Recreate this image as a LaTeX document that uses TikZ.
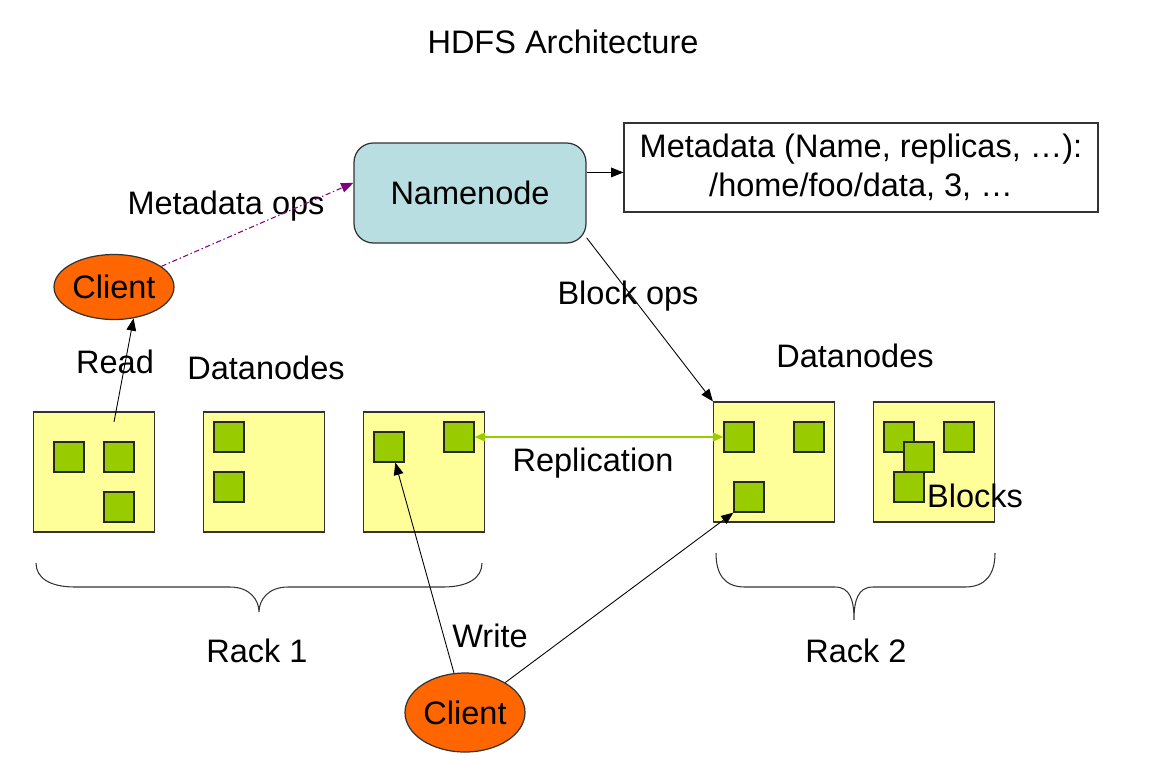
\documentclass[tikz,border=0pt]{standalone}
\usepackage{fontspec}
\setmainfont{Liberation Sans}
\usetikzlibrary{shapes.geometric, arrows.meta}
\definecolor{namecolor}{RGB}{185, 222, 226}
\definecolor{clientcolor}{RGB}{255, 102, 0}
\definecolor{nodecolor}{RGB}{255, 255, 153}
\definecolor{blockcolor}{RGB}{153, 204, 0}
\definecolor{opscolor}{RGB}{128, 0, 128}
\definecolor{edgegray}{RGB}{51, 51, 51}

\begin{document}
\begin{tikzpicture}[
    x=0.02cm, y=-0.02cm,
    every node/.style={font=\fontsize{18.5}{22.5}\selectfont},
    namebox/.style={draw=edgegray, fill=namecolor, rounded corners=11pt, line width=0.7pt, minimum width=4.64cm, minimum height=2cm},
    metabox/.style={draw=edgegray, fill=white, line width=0.7pt, minimum width=9.48cm, minimum height=1.78cm, align=center, inner sep=0pt},
    client/.style={ellipse, draw=edgegray, fill=clientcolor, line width=0.7pt, inner sep=0pt, minimum width=2.4cm},
    datanode/.style={draw=edgegray, fill=nodecolor, line width=0.7pt, minimum width=2.42cm, minimum height=2.4cm, inner sep=0pt},
    block/.style={draw=black!85, fill=blockcolor, line width=0.7pt, minimum size=0.6cm, inner sep=0pt},
    tag/.style={inner sep=0pt},
    arrow/.style={-{Triangle[length=7pt, width=5.5pt]}, line width=0.5pt, black},
    opsarrow/.style={-{Triangle[length=7pt, width=5.5pt]}, line width=0.6pt, opscolor, dash pattern=on 3pt off 1.5pt on 0.8pt off 1.5pt},
    reparrow/.style={{Triangle[length=6pt, width=5pt]}-{Triangle[length=6pt, width=5pt]}, line width=0.8pt, blockcolor},
    rack/.style={line width=0.6pt, edgegray}
]
    \useasboundingbox (0,0) rectangle (1158,775);

    % Title
    \node[tag] (title) at (563,42) {HDFS Architecture};

    % Namenode and metadata
    \node[namebox] (namenode) at (470,193) {Namenode};
    \node[metabox] (meta) at (861,167.5) {Metadata (Name, replicas, …):\\/home/foo/data, 3, …};

    % Clients
    \node[client, minimum height=1.3cm] (client1) at (114,287) {Client};
    \node[client, minimum height=1.58cm] (client2) at (465,712.5) {Client};

    % Datanodes, rack 1
    \node[datanode] (dn1) at (94,472) {};
    \node[datanode] (dn2) at (264,472) {};
    \node[datanode] (dn3) at (424,472) {};
    % Datanodes, rack 2
    \node[datanode] (dn4) at (774,462) {};
    \node[datanode] (dn5) at (934,462) {};

    % Blocks
    \node[block] (dn1a) at (69,457) {};
    \node[block] (dn1b) at (119,457) {};
    \node[block] (dn1c) at (119,507) {};
    \node[block] (dn2a) at (229,437) {};
    \node[block] (dn2b) at (229,487) {};
    \node[block] (dn3a) at (389,447) {};
    \node[block] (dn3b) at (459,437) {};
    \node[block] (dn4a) at (739,437) {};
    \node[block] (dn4b) at (809,437) {};
    \node[block] (dn4c) at (749,497) {};
    \node[block] (dn5a) at (899,437) {};
    \node[block] (dn5b) at (919,457) {};
    \node[block] (dn5c) at (909,487) {};
    \node[block] (dn5d) at (959,437) {};

    % Labels
    \node[tag] (opslabel) at (226,206) {Metadata ops};
    \node[tag] (readlabel) at (115,362) {Read};
    \node[tag] (dnlabel1) at (266,368) {Datanodes};
    \node[tag] (dnlabel2) at (855,356) {Datanodes};
    \node[tag] (blocklabel) at (628,296) {Block ops};
    \node[tag] (replabel) at (593,463) {Replication};
    \node[tag] (writelabel) at (490,636) {Write};
    \node[tag] (blockslabel) at (975,496) {Blocks};
    \node[tag] (rack1label) at (257,651) {Rack 1};
    \node[tag] (rack2label) at (856,651) {Rack 2};

    % Racks
    \draw[rack] (36,563) .. controls (36,578) and (50,587) .. (75,587) -- (230,587)
        .. controls (250,587) and (259,600) .. (259,612)
        .. controls (259,600) and (268,587) .. (288,587) -- (443,587)
        .. controls (468,587) and (482,578) .. (482,563);
    \draw[rack] (716,553) .. controls (716,575) and (725,587) .. (745,587) -- (835,587)
        .. controls (850,587) and (854,600) .. (854,620)
        .. controls (854,600) and (858,587) .. (873,587) -- (965,587)
        .. controls (985,587) and (995,575) .. (995,553);

    % Arrows
    \coordinate (readfrom) at (114,422);
    \draw[opsarrow] (client1) -- (namenode.175);
    \draw[arrow] (namenode.10) -- (namenode.10 -| meta.west);
    \draw[arrow] (readfrom) -- (client1.-58);
    \draw[arrow] (namenode.-21) -- (dn4.north west);
    \draw[reparrow] (dn3b.east) -- (dn4a.west);
    \draw[arrow] (client2) -- (dn3a.-68);
    \draw[arrow] (client2) -- (dn4c.south west);
\end{tikzpicture}
\end{document}
